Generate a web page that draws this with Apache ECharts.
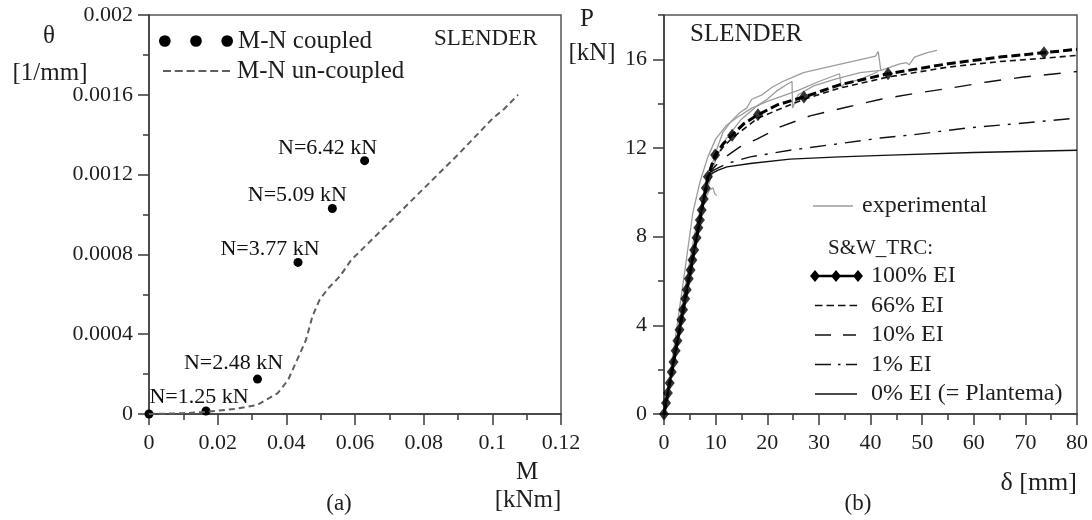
<!DOCTYPE html>
<html><head><meta charset="utf-8">
<script src="https://cdn.jsdelivr.net/npm/echarts@6/dist/echarts.min.js"></script>
<style>html,body{margin:0;padding:0;background:#fff}#c{width:1092px;height:520px}</style>
</head><body><div id="c"></div>
<script>
// ---------- (a) M - theta ----------
const coupledM      = [0, 0.0166, 0.0316, 0.0434, 0.0534, 0.0628];
const coupledTheta  = [0, 0.000015, 0.000175, 0.00076, 0.00103, 0.00127];
const coupledLabels = ['', 'N=1.25 kN', 'N=2.48 kN', 'N=3.77 kN', 'N=5.09 kN', 'N=6.42 kN'];
const uncoupledM     = [0, 0.01, 0.0163, 0.025, 0.0315, 0.0375, 0.0405, 0.0431, 0.0457, 0.0476, 0.0496, 0.0522, 0.0556, 0.0588, 0.07, 0.08, 0.09, 0.1, 0.1035, 0.1075];
const uncoupledTheta = [0, 0.000004, 0.00001, 0.000025, 0.000045, 0.000105, 0.00017, 0.00027, 0.00037, 0.00049, 0.00057, 0.00063, 0.00069, 0.00077, 0.00096, 0.00113, 0.0013, 0.00148, 0.00153, 0.0016];
const xTicksA = [0, 0.02, 0.04, 0.06, 0.08, 0.1, 0.12];
const yTicksA = [0, 0.0004, 0.0008, 0.0012, 0.0016, 0.002];

// ---------- (b) delta - P ----------
const ei100D = [0, 8.5, 9.9, 11.5, 13.2, 15.5, 18.2, 22, 27.1, 34, 43.4, 55, 65, 73.6, 80];
const ei100P = [0, 10.7, 11.68, 12.2, 12.58, 13.1, 13.5, 13.95, 14.3, 14.85, 15.35, 15.8, 16.1, 16.3, 16.45];
const ei100MarkD = [0, 0.4, 0.75, 1.1, 1.5, 1.85, 2.25, 2.6, 3.0, 3.35, 3.7, 4.1, 4.4, 4.8, 5.15, 5.5, 5.85, 6.3, 6.65, 6.95, 7.3, 7.7, 8.1, 8.5, 9.9, 13.2, 18.2, 27.1, 43.4, 73.6];
const ei100MarkP = [0, 0.5, 0.95, 1.4, 1.9, 2.35, 2.85, 3.3, 3.8, 4.25, 4.7, 5.2, 5.6, 6.1, 6.5, 6.95, 7.4, 7.95, 8.4, 8.75, 9.2, 9.7, 10.2, 10.7, 11.68, 12.58, 13.5, 14.3, 15.35, 16.3];
const ei66D = [0, 8.5, 9.9, 11.5, 13.2, 18.2, 27.1, 34, 43.4, 55, 65, 73.6, 80];
const ei66P = [0, 10.7, 11.55, 12.05, 12.45, 13.35, 14.2, 14.7, 15.2, 15.65, 15.9, 16.05, 16.18];
const ei10D = [0, 8.5, 9.2, 11, 14.7, 18, 22.5, 28.3, 35.5, 42, 48.3, 55.4, 62.6, 69.6, 80];
const ei10P = [0, 10.7, 11.0, 11.45, 12.05, 12.4, 12.95, 13.45, 13.85, 14.2, 14.45, 14.7, 14.98, 15.2, 15.45];
const ei1D = [0, 8.5, 9.2, 10.5, 12.2, 16.7, 24.4, 34.1, 41.9, 48.3, 58.7, 68.4, 80];
const ei1P = [0, 10.7, 10.95, 11.1, 11.3, 11.6, 11.9, 12.2, 12.45, 12.6, 12.9, 13.1, 13.35];
const ei0D = [0, 8.5, 9.3, 10.5, 12.2, 16.7, 24.4, 34, 43.8, 60, 80];
const ei0P = [0, 10.7, 10.85, 11.0, 11.15, 11.3, 11.5, 11.6, 11.68, 11.8, 11.9];
const exp1D = [0, 2, 4, 6, 8, 9, 10, 11.4, 13, 14.7, 16, 17, 19, 21, 23, 25, 27, 31.6, 37.4, 41, 41.5, 42];
const exp1P = [0, 2.8, 5.6, 8.2, 10.2, 11.0, 11.8, 12.7, 13.2, 13.6, 13.8, 14.2, 14.4, 14.75, 15.0, 15.2, 15.4, 15.65, 15.95, 16.15, 16.35, 15.5];
const exp2D = [0, 2, 4, 6, 8, 9.3, 10, 12, 15, 18, 20, 22, 24, 24.8, 24.9, 26, 29, 33, 38, 42, 45.7, 47, 47.5, 48.5, 51, 52.9];
const exp2P = [0, 2.6, 5.3, 7.8, 9.9, 10.8, 11.5, 12.4, 13.3, 13.9, 14.2, 14.6, 14.9, 15.0, 13.8, 14.4, 14.8, 15.1, 15.4, 15.5, 15.8, 15.85, 15.75, 16.1, 16.3, 16.4];
const exp3D = [0, 2, 4, 5.6, 7, 8.5, 10, 12, 14, 17, 20, 23, 26, 30, 34, 34.3, 35, 38, 41.5];
const exp3P = [0, 3.1, 6.4, 9.1, 10.5, 11.6, 12.4, 13.0, 13.35, 13.8, 14.1, 14.35, 14.6, 15.0, 15.35, 14.75, 14.9, 15.1, 15.45];
const exp4D = [0, 2, 4, 6, 7.5, 8.8, 9.5, 9.8, 10.2];
const exp4P = [0, 2.7, 5.5, 8.0, 9.5, 10.1, 10.2, 9.95, 9.85];
const xTicksB = [0, 10, 20, 30, 40, 50, 60, 70, 80];
const yTicksB = [0, 4, 8, 12, 16];

const FONT = "'Liberation Serif','Times New Roman',serif";
const TXT = '#1e1e1e';
const AX = '#3a3a3a';
const zip = (a, b) => a.map((v, i) => [v, b[i]]);

function axisCommon(extra) {
  return Object.assign({
    type: 'value',
    axisLine: { show: true, onZero: false, lineStyle: { color: AX, width: 1.5 } },
    axisTick: { show: true, inside: false, length: 11, lineStyle: { color: AX, width: 1.5 } },
    splitLine: { show: false },
    axisLabel: { fontFamily: FONT, fontSize: 22, color: TXT, margin: 16 }
  }, extra);
}

const labelShift = [[0, 0], [-7, -14], [-24, -16], [-28, -13], [-35, -13], [-37, -12]];
const fmt = v => String(+(+v).toFixed(5));

// legend icon builders (box-sized paths)
const anchors = (w, h) => `M0,0h0.01v0.01h-0.01zM${w - 0.01},${h - 0.01}h0.01v0.01h-0.01z`;
const bar = (x0, x1, t) => `M${x0},${6 - t / 2}H${x1}V${6 + t / 2}H${x0}Z`;
const icon = (w, parts) => 'path://' + anchors(w, 12) + parts.join('');
const dotsIcon = 'path://M0,6a6,6 0 1,0 12,0a6,6 0 1,0 -12,0zM32,6a6,6 0 1,0 12,0a6,6 0 1,0 -12,0zM64,6a6,6 0 1,0 12,0a6,6 0 1,0 -12,0z';
const uncIcon = icon(69, [0, 11.8, 23.6, 35.4, 47.2, 59].map(x => bar(x, x + 8, 2)));
const expIcon = icon(44, [bar(0, 40, 1.3)]);
const diam = cx => `M${cx - 5},6L${cx},0L${cx + 5},6L${cx},12Z`;
const i100 = icon(58, [diam(7), diam(28), diam(50), bar(7, 50, 2.4)]);
const i66 = icon(58, [7, 18.5, 30, 41.5].map(x => bar(x, x + 7.5, 1.6)));
const i10 = icon(58, [bar(7, 23, 1.6), bar(35, 48, 1.6)]);
const i1 = icon(58, [bar(7, 23, 1.6), bar(30, 32.5, 1.6), bar(38, 49, 1.6)]);
const i0 = icon(58, [bar(7, 49, 1.5)]);

const chart = echarts.init(document.getElementById('c'), null, { renderer: 'canvas' });
const legendBase = { orient: 'vertical', padding: 0, selectedMode: false, itemHeight: 12, itemStyle: { borderWidth: 0 } };
const option = {
  animation: false,
  backgroundColor: '#fff',
  textStyle: { fontFamily: FONT },
  grid: [
    { left: 149, top: 15, width: 412, height: 399, show: true, borderColor: '#555', borderWidth: 1.5, backgroundColor: 'transparent', containLabel: false, outerBoundsMode: 'none' },
    { left: 664, top: 15, width: 413, height: 399, show: true, borderColor: '#555', borderWidth: 1.5, backgroundColor: 'transparent', containLabel: false, outerBoundsMode: 'none' },
    { left: 664, top: 15 + 399 * 2 / 18, width: 413, height: 399 * 16 / 18, containLabel: false, outerBoundsMode: 'none' }
  ],
  xAxis: [
    axisCommon({ gridIndex: 0, min: xTicksA[0], max: xTicksA[xTicksA.length - 1], interval: xTicksA[1] - xTicksA[0],
      minorTick: { show: true, splitNumber: 2, length: 6, lineStyle: { color: AX, width: 1.5 } },
      axisLabel: { fontFamily: FONT, fontSize: 22, color: TXT, margin: 18, formatter: fmt } }),
    axisCommon({ gridIndex: 1, min: xTicksB[0], max: xTicksB[xTicksB.length - 1], interval: xTicksB[1] - xTicksB[0],
      minorTick: { show: true, splitNumber: 2, length: 6, lineStyle: { color: AX, width: 1.5 } },
      axisLabel: { fontFamily: FONT, fontSize: 22, color: TXT, margin: 18 } }),
    { gridIndex: 2, type: 'value', min: 0, max: 80, show: false }
  ],
  yAxis: [
    axisCommon({ gridIndex: 0, min: yTicksA[0], max: yTicksA[yTicksA.length - 1], interval: yTicksA[1] - yTicksA[0],
      minorTick: { show: true, splitNumber: 2, length: 6, lineStyle: { color: AX, width: 1.5 } },
      axisLabel: { fontFamily: FONT, fontSize: 22, color: TXT, margin: 16, formatter: fmt } }),
    axisCommon({ gridIndex: 1, min: 0, max: 18, interval: 2,
      axisTick: { show: true, length: 6, lineStyle: { color: AX, width: 1.5 } },
      axisLabel: { show: false } }),
    axisCommon({ gridIndex: 2, min: yTicksB[0], max: yTicksB[yTicksB.length - 1], interval: yTicksB[1] - yTicksB[0],
      axisLine: { show: false },
      axisLabel: { fontFamily: FONT, fontSize: 22, color: TXT, margin: 17 } })
  ],
  legend: [
    Object.assign({}, legendBase, { data: [{ name: 'M-N coupled', icon: dotsIcon }], left: 159, top: 28, itemWidth: 74,
      textStyle: { fontFamily: FONT, fontSize: 25, color: TXT, lineHeight: 26 } }),
    Object.assign({}, legendBase, { data: [{ name: 'M-N un-coupled', icon: uncIcon }], left: 163, top: 58, itemWidth: 69,
      textStyle: { fontFamily: FONT, fontSize: 25, color: TXT, lineHeight: 26 } }),
    Object.assign({}, legendBase, { data: [{ name: 'experimental', icon: expIcon }], left: 813, top: 193, itemWidth: 44,
      textStyle: { fontFamily: FONT, fontSize: 24, color: TXT, lineHeight: 26 } }),
    Object.assign({}, legendBase, {
      data: [{ name: '100% EI', icon: i100 }, { name: '66% EI', icon: i66 }, { name: '10% EI', icon: i10 },
             { name: '1% EI', icon: i1 }, { name: '0% EI (= Plantema)', icon: i0 }],
      left: 808, top: 263, itemGap: 3.5, itemWidth: 58,
      textStyle: { fontFamily: FONT, fontSize: 24, color: TXT, lineHeight: 26 } })
  ],
  series: [
    { name: 'M-N un-coupled', type: 'line', xAxisIndex: 0, yAxisIndex: 0, symbol: 'none',
      data: zip(uncoupledM, uncoupledTheta), lineStyle: { color: '#5f5f5f', width: 2, type: [6, 4] }, itemStyle: { color: '#5f5f5f' } },
    { name: 'M-N coupled', type: 'scatter', xAxisIndex: 0, yAxisIndex: 0, symbol: 'circle', symbolSize: 9,
      itemStyle: { color: '#000', opacity: 1 },
      data: coupledM.map((m, i) => ({
        value: [m, coupledTheta[i]],
        label: { show: coupledLabels[i] !== '', formatter: coupledLabels[i], position: 'inside',
          offset: labelShift[i], fontFamily: FONT, fontSize: 22, color: '#111', opacity: 1,
          textBorderWidth: 0, textShadowBlur: 0 }
      })) },
    ...[[exp1D, exp1P], [exp2D, exp2P], [exp3D, exp3P], [exp4D, exp4P]].map(([d, p]) => ({
      name: 'experimental', type: 'line', xAxisIndex: 1, yAxisIndex: 1, symbol: 'none', z: 1,
      data: zip(d, p), lineStyle: { color: '#9c9c9c', width: 1.3 }, itemStyle: { color: '#9c9c9c' } })),
    { name: '0% EI (= Plantema)', type: 'line', xAxisIndex: 1, yAxisIndex: 1, symbol: 'none', z: 3,
      data: zip(ei0D, ei0P), lineStyle: { color: '#111', width: 1.4 }, itemStyle: { color: '#111' } },
    { name: '1% EI', type: 'line', xAxisIndex: 1, yAxisIndex: 1, symbol: 'none', z: 3,
      data: zip(ei1D, ei1P), lineStyle: { color: '#111', width: 1.4, type: [16, 8, 3, 8] }, itemStyle: { color: '#111' } },
    { name: '10% EI', type: 'line', xAxisIndex: 1, yAxisIndex: 1, symbol: 'none', z: 3,
      data: zip(ei10D, ei10P), lineStyle: { color: '#111', width: 1.4, type: [17, 13] }, itemStyle: { color: '#111' } },
    { name: '66% EI', type: 'line', xAxisIndex: 1, yAxisIndex: 1, symbol: 'none', z: 3,
      data: zip(ei66D, ei66P), lineStyle: { color: '#111', width: 1.6, type: [6, 4] }, itemStyle: { color: '#111' } },
    { name: '100% EI', type: 'line', xAxisIndex: 1, yAxisIndex: 1, symbol: 'none', z: 4,
      data: zip(ei100D, ei100P), lineStyle: { color: '#000', width: 3, type: [9, 4] }, itemStyle: { color: '#000' } },
    { name: '100% EI markers', type: 'scatter', xAxisIndex: 1, yAxisIndex: 1, symbol: 'diamond', symbolSize: [10, 13], z: 5,
      data: zip(ei100MarkD, ei100MarkP), itemStyle: { color: '#000' } }
  ],
  graphic: [
    { type: 'text', left: 434, top: 27, style: { text: 'SLENDER', font: `23px ${FONT}`, fill: TXT } },
    { type: 'text', left: 690, top: 22, style: { text: 'SLENDER', font: `25px ${FONT}`, fill: TXT } },
    { type: 'text', x: 49, y: 36, style: { text: 'θ', font: `25px ${FONT}`, fill: TXT, align: 'center', verticalAlign: 'middle' } },
    { type: 'text', x: 50, y: 73, style: { text: '[1/mm]', font: `25px ${FONT}`, fill: TXT, align: 'center', verticalAlign: 'middle' } },
    { type: 'text', x: 527, y: 472, style: { text: 'M', font: `25px ${FONT}`, fill: TXT, align: 'center', verticalAlign: 'middle' } },
    { type: 'text', x: 528, y: 500, style: { text: '[kNm]', font: `25px ${FONT}`, fill: TXT, align: 'center', verticalAlign: 'middle' } },
    { type: 'text', x: 339, y: 504, style: { text: '(a)', font: `23px ${FONT}`, fill: TXT, align: 'center', verticalAlign: 'middle' } },
    { type: 'text', x: 587, y: 19, style: { text: 'P', font: `25px ${FONT}`, fill: TXT, align: 'center', verticalAlign: 'middle' } },
    { type: 'text', x: 592, y: 53, style: { text: '[kN]', font: `25px ${FONT}`, fill: TXT, align: 'center', verticalAlign: 'middle' } },
    { type: 'text', x: 1077, y: 483, style: { text: 'δ [mm]', font: `26px ${FONT}`, fill: TXT, align: 'right', verticalAlign: 'middle' } },
    { type: 'text', x: 858, y: 504, style: { text: '(b)', font: `23px ${FONT}`, fill: TXT, align: 'center', verticalAlign: 'middle' } },
    { type: 'text', x: 828, y: 248, style: { text: 'S&W_TRC:', font: `21px ${FONT}`, fill: TXT, align: 'left', verticalAlign: 'middle' } }
  ]
};
chart.setOption(option);
</script>
</body></html>
